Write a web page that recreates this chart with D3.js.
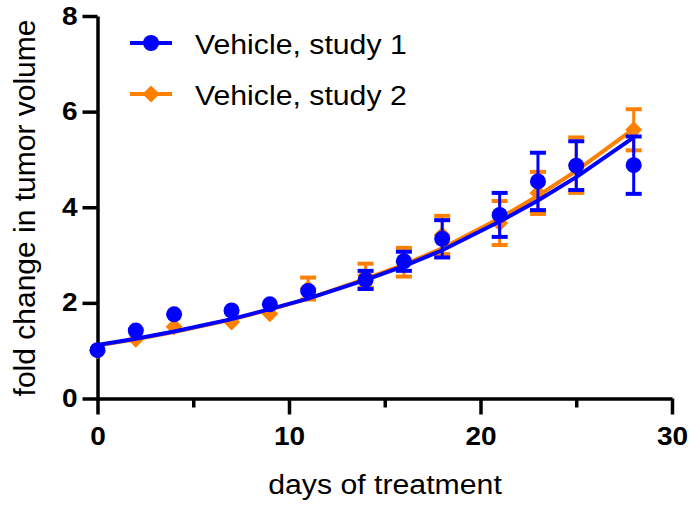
<!DOCTYPE html>
<meta charset="utf-8">
<title>fold change in tumor volume</title>
<style>
body { margin: 0; background: #fff; }
svg { font-family: "Liberation Sans", Arial, sans-serif; }
.axis path, .axis line { stroke: #000; stroke-width: 3.5; fill: none; }
.axis text { font-weight: bold; font-size: 25px; fill: #000; }
</style>
<body>
<script src="https://cdn.jsdelivr.net/npm/d3@7"></script>
<script>
var width = 693, height = 507;
var stretch = 1.12;

var days = [0, 2, 4, 7, 9, 11, 14, 16, 18, 21, 23, 25, 28];
// study 1 (blue circles)
var study1Mean = [1.01, 1.42, 1.76, 1.84, 1.97, 2.25, 2.48, 2.87, 3.34, 3.84, 4.54, 4.87, 4.88];
var study1Err  = [0, 0, 0, 0, 0, 0, 0.19, 0.20, 0.39, 0.46, 0.60, 0.51, 0.60];
var study1Fit  = [1.12, 1.25, 1.40, 1.66, 1.87, 2.09, 2.48, 2.77, 3.10, 3.70, 4.14, 4.63, 5.46];
// study 2 (orange diamonds)
var study2Mean = [1.00, 1.24, 1.50, 1.60, 1.77, 2.30, 2.57, 2.85, 3.42, 3.67, 4.30, 4.88, 5.62];
var study2Err  = [0, 0, 0, 0, 0, 0.23, 0.25, 0.30, 0.40, 0.46, 0.44, 0.58, 0.43];
var study2Fit  = [1.11, 1.24, 1.39, 1.65, 1.86, 2.09, 2.50, 2.80, 3.14, 3.77, 4.24, 4.76, 5.64];

var seriesNames = ["Vehicle, study 1", "Vehicle, study 2"];
var seriesColors = ["#0000ff", "#ff8000"];
var xTicks = [0, 10, 20, 30];
var xMinorTicks = [5, 15, 25];
var yTicks = [0, 2, 4, 6, 8];

var svg = d3.select("body").append("svg").attr("width", width).attr("height", height);

var x = d3.scaleLinear().domain([0, 30]).range([97.5, 672]);
var y = d3.scaleLinear().domain([0, 8]).range([398.5, 16]);

function stretchText(sel) {
  sel.each(function() {
    var t = d3.select(this);
    var tx = +t.attr("x") || 0;
    t.attr("x", 0).attr("transform", "translate(" + tx + ",0) scale(" + stretch + ",1)");
  });
}

// axes
var yAxis = svg.append("g").attr("class", "axis")
  .attr("transform", "translate(" + x(0) + ",0)")
  .call(d3.axisLeft(y).tickValues(yTicks).tickSize(15).tickSizeOuter(0).tickPadding(5).tickFormat(d3.format("d")));
yAxis.selectAll("text").call(stretchText);

svg.append("g").attr("class", "axis")
  .attr("transform", "translate(0," + y(0) + ")")
  .call(d3.axisBottom(x).tickValues(xMinorTicks).tickSize(9).tickSizeOuter(0).tickFormat(""))
  .select(".domain").remove();
var xAxis = svg.append("g").attr("class", "axis")
  .attr("transform", "translate(0," + y(0) + ")")
  .call(d3.axisBottom(x).tickValues(xTicks).tickSize(16).tickSizeOuter(0).tickPadding(13).tickFormat(d3.format("d")));
xAxis.selectAll("text").call(stretchText);

// axis titles
svg.append("text")
  .attr("transform", "translate(385,494) scale(" + stretch + ",1)")
  .attr("text-anchor", "middle")
  .style("font-size", "27px")
  .text("days of treatment");

svg.append("text")
  .attr("transform", "translate(35,208) rotate(-90)")
  .attr("text-anchor", "middle")
  .style("font-size", "30px")
  .text("fold change in tumor volume");

function diamond(r) {
  return "M0," + (-r) + "L" + r + ",0L0," + r + "L" + (-r) + ",0Z";
}

function drawSeries(mean, err, fit, color, isCircle) {
  var g = svg.append("g");
  var pts = days.map(function(d, i) { return {day: d, m: mean[i], e: err[i], f: fit[i]}; });
  var line = d3.line().x(function(d) { return x(d.day); }).y(function(d) { return y(d.f); });
  g.append("path").datum(pts)
    .attr("d", line).attr("fill", "none").attr("stroke", color).attr("stroke-width", 4);
  // error bars hidden behind the symbol when too small
  var eb = g.selectAll(".err").data(pts.filter(function(d) { return d.e > 0; })).enter().append("g");
  eb.append("line")
    .attr("x1", function(d) { return x(d.day); }).attr("x2", function(d) { return x(d.day); })
    .attr("y1", function(d) { return y(d.m - d.e); }).attr("y2", function(d) { return y(d.m + d.e); })
    .attr("stroke", color).attr("stroke-width", 3);
  [-1, 1].forEach(function(s) {
    eb.append("line")
      .attr("x1", function(d) { return x(d.day) - 8; }).attr("x2", function(d) { return x(d.day) + 8; })
      .attr("y1", function(d) { return y(d.m + s * d.e); }).attr("y2", function(d) { return y(d.m + s * d.e); })
      .attr("stroke", color).attr("stroke-width", 4);
  });
  if (isCircle) {
    g.selectAll(".mk").data(pts).enter().append("circle")
      .attr("cx", function(d) { return x(d.day); }).attr("cy", function(d) { return y(d.m); })
      .attr("r", 8).attr("fill", color);
  } else {
    g.selectAll(".mk").data(pts).enter().append("path")
      .attr("d", diamond(8.5))
      .attr("transform", function(d) { return "translate(" + x(d.day) + "," + y(d.m) + ")"; })
      .attr("fill", color);
  }
}

drawSeries(study2Mean, study2Err, study2Fit, seriesColors[1], false);
drawSeries(study1Mean, study1Err, study1Fit, seriesColors[0], true);

// legend
var legend = svg.selectAll(".legend").data(seriesNames).enter().append("g")
  .attr("transform", function(d, i) { return "translate(130," + (43 + i * 51) + ")"; });
legend.append("line").attr("x1", 0).attr("x2", 42).attr("y1", 0).attr("y2", 0)
  .attr("stroke", function(d, i) { return seriesColors[i]; }).attr("stroke-width", 4);
legend.each(function(d, i) {
  var g = d3.select(this);
  if (i === 0) g.append("circle").attr("cx", 21).attr("cy", 0).attr("r", 8).attr("fill", seriesColors[0]);
  else g.append("path").attr("d", diamond(8.5)).attr("transform", "translate(21,0)").attr("fill", seriesColors[1]);
});
legend.append("text")
  .attr("transform", "translate(65,11) scale(" + stretch + ",1)")
  .style("font-size", "27px")
  .text(function(d) { return d; });
</script>
</body>
